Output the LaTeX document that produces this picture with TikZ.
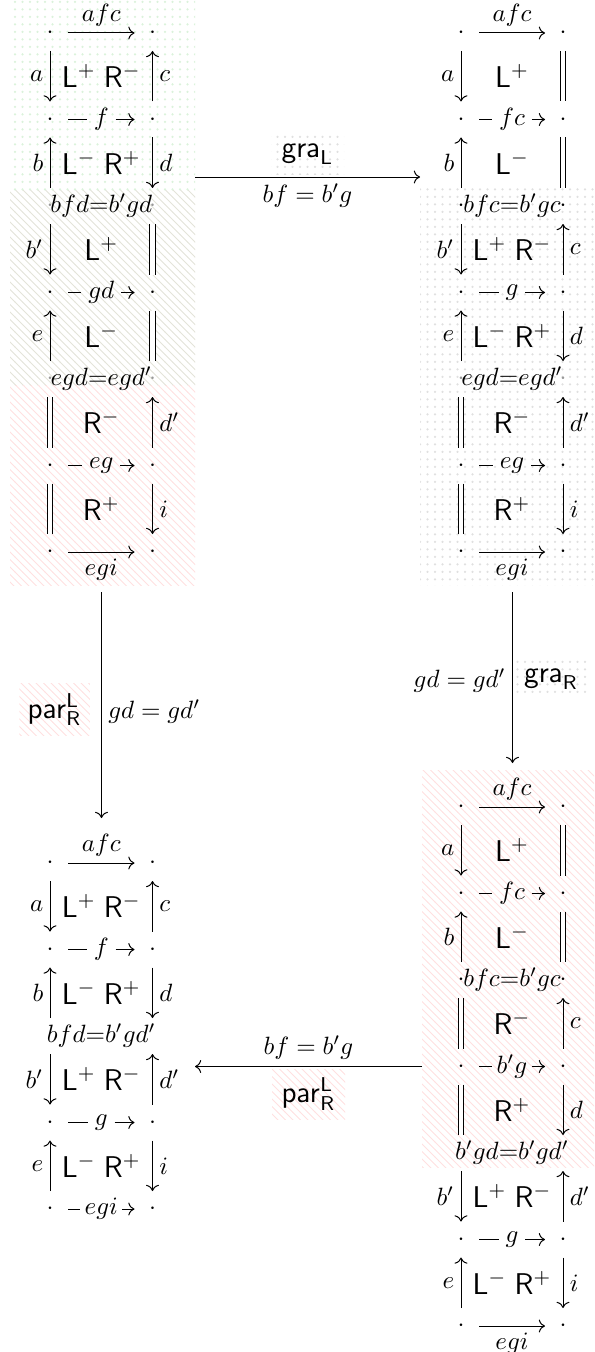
\documentclass[tikz,border=0pt]{standalone}
\usetikzlibrary{patterns,cd}
\definecolor{pinkc}{rgb}{1,0.88,0.88}
\definecolor{greyc}{rgb}{0.88,0.88,0.88}
\definecolor{greenc}{rgb}{0.86,0.95,0.86}
\definecolor{linec}{rgb}{0.89,0.89,0.85}
\begin{document}
\begin{tikzpicture}[x=0.4pt,y=-0.4pt,
  dotn/.style={circle,minimum size=14pt,inner sep=0pt},
  fdot/.style={dotn,text=black!40},
  hid/.style={circle,minimum size=14pt,inner sep=0pt},
  ar/.style={-{cm to},line width=0.4pt},
  ln/.style={line width=0.4pt},
  eq/.style={double,double distance=1.8pt,line width=0.4pt},
  sq/.style={font=\large},
  lab/.style={inner sep=2.5pt},
  mid/.style={inner sep=2.6pt},
  txt/.style={inner sep=1pt},
  pinkp/.style={pattern=north west lines,pattern color=pinkc},
  greyp/.style={pattern=dots,pattern color=greyc}]
\useasboundingbox (0,0) rectangle (594,1352);
% backgrounds
\fill[pattern=dots,pattern color=greenc] (10,0) rectangle (195,190);
\fill[pattern=north west lines,pattern color=linec] (10,190) rectangle (195,385);
\fill[pinkp] (10,385) rectangle (195,585);
\fill[greyp] (420,188) rectangle (594,585);
\fill[pinkp] (422,770) rectangle (594,1167);

% ================= TL =================
\foreach \k/\y in {0/33,1/119.5,3/292.5,5/465.5,6/552}{
  \node[dotn] (TL\k-a) at (50,\y) {$\cdot$};
  \node[dotn] (TL\k-b) at (152.5,\y) {$\cdot$};}
\foreach \k/\y in {2/206,4/379}{
  \node[fdot] (TL\k-a) at (50,\y) {$\cdot$};
  \node[fdot] (TL\k-b) at (152.5,\y) {$\cdot$};}
\draw[ar] (TL0-a) -- node[above,lab](TLl1){$afc$} (TL0-b);
\draw[ar] (TL0-a) -- node[left,lab](TLl2){$a$} (TL1-a);
\draw[ar] (TL1-b) -- node[right,lab](TLl3){$c$} (TL0-b);
\node[sq] (TLs1) at (101.25,76.25) {$\mathsf{L}^{+}\;\mathsf{R}^{-}$};
\node[mid] (TL1-t) at (101.25,119.5) {$f$};
\draw[ln] (TL1-a) -- (TL1-t); \draw[ar] (TL1-t) -- (TL1-b);
\draw[ar] (TL2-a) -- node[left,lab](TLl4){$b$} (TL1-a);
\draw[ar] (TL1-b) -- node[right,lab](TLl5){$d$} (TL2-b);
\node[sq] (TLs2) at (101.25,162.75) {$\mathsf{L}^{-}\;\mathsf{R}^{+}$};
\node[txt] (TL2-t) at (101.25,206) {$bfd{=}b'gd$};
\draw[ar] (TL2-a) -- node[left,lab](TLl6){$b'$} (TL3-a);
\draw[eq] (TL2-b) -- (TL3-b);
\node[sq] (TLs3) at (101.25,249.25) {$\mathsf{L}^{+}$};
\node[mid] (TL3-t) at (101.25,292.5) {$gd$};
\draw[ln] (TL3-a) -- (TL3-t); \draw[ar] (TL3-t) -- (TL3-b);
\draw[ar] (TL4-a) -- node[left,lab](TLl7){$e$} (TL3-a);
\draw[eq] (TL3-b) -- (TL4-b);
\node[sq] (TLs4) at (101.25,335.75) {$\mathsf{L}^{-}$};
\node[txt] (TL4-t) at (101.25,379) {$egd{=}egd'$};
\draw[eq] (TL4-a) -- (TL5-a);
\draw[ar] (TL5-b) -- node[right,lab](TLl8){$d'$} (TL4-b);
\node[sq] (TLs5) at (101.25,422.25) {$\mathsf{R}^{-}$};
\node[mid] (TL5-t) at (101.25,465.5) {$eg$};
\draw[ln] (TL5-a) -- (TL5-t); \draw[ar] (TL5-t) -- (TL5-b);
\draw[eq] (TL5-a) -- (TL6-a);
\draw[ar] (TL5-b) -- node[right,lab](TLl9){$i$} (TL6-b);
\node[sq] (TLs6) at (101.25,508.75) {$\mathsf{R}^{+}$};
\draw[ar] (TL6-a) -- node[below,lab](TLl10){$egi$} (TL6-b);

% ================= TR =================
\foreach \k/\y in {0/33,1/119.5,2/206,3/292.5,5/465.5,6/552}{
  \node[dotn] (TR\k-a) at (461,\y) {$\cdot$};
  \node[dotn] (TR\k-b) at (563,\y) {$\cdot$};}
\foreach \k/\y in {4/379}{
  \node[fdot] (TR\k-a) at (461,\y) {$\cdot$};
  \node[fdot] (TR\k-b) at (563,\y) {$\cdot$};}
\draw[ar] (TR0-a) -- node[above,lab](TRl1){$afc$} (TR0-b);
\draw[ar] (TR0-a) -- node[left,lab](TRl2){$a$} (TR1-a);
\draw[eq] (TR0-b) -- (TR1-b);
\node[sq] (TRs1) at (512,76.25) {$\mathsf{L}^{+}$};
\node[mid] (TR1-t) at (512,119.5) {$fc$};
\draw[ln] (TR1-a) -- (TR1-t); \draw[ar] (TR1-t) -- (TR1-b);
\draw[ar] (TR2-a) -- node[left,lab](TRl3){$b$} (TR1-a);
\draw[eq] (TR1-b) -- (TR2-b);
\node[sq] (TRs2) at (512,162.75) {$\mathsf{L}^{-}$};
\node[txt] (TR2-t) at (512,206) {$bfc{=}b'gc$};
\draw[ar] (TR2-a) -- node[left,lab](TRl4){$b'$} (TR3-a);
\draw[ar] (TR3-b) -- node[right,lab](TRl5){$c$} (TR2-b);
\node[sq] (TRs3) at (512,249.25) {$\mathsf{L}^{+}\;\mathsf{R}^{-}$};
\node[mid] (TR3-t) at (512,292.5) {$g$};
\draw[ln] (TR3-a) -- (TR3-t); \draw[ar] (TR3-t) -- (TR3-b);
\draw[ar] (TR4-a) -- node[left,lab](TRl6){$e$} (TR3-a);
\draw[ar] (TR3-b) -- node[right,lab](TRl7){$d$} (TR4-b);
\node[sq] (TRs4) at (512,335.75) {$\mathsf{L}^{-}\;\mathsf{R}^{+}$};
\node[txt] (TR4-t) at (512,379) {$egd{=}egd'$};
\draw[eq] (TR4-a) -- (TR5-a);
\draw[ar] (TR5-b) -- node[right,lab](TRl8){$d'$} (TR4-b);
\node[sq] (TRs5) at (512,422.25) {$\mathsf{R}^{-}$};
\node[mid] (TR5-t) at (512,465.5) {$eg$};
\draw[ln] (TR5-a) -- (TR5-t); \draw[ar] (TR5-t) -- (TR5-b);
\draw[eq] (TR5-a) -- (TR6-a);
\draw[ar] (TR5-b) -- node[right,lab](TRl9){$i$} (TR6-b);
\node[sq] (TRs6) at (512,508.75) {$\mathsf{R}^{+}$};
\draw[ar] (TR6-a) -- node[below,lab](TRl10){$egi$} (TR6-b);

% ================= BL =================
\foreach \k/\y in {0/863,1/949.5,3/1122.5,4/1209}{
  \node[dotn] (BL\k-a) at (50,\y) {$\cdot$};
  \node[dotn] (BL\k-b) at (152.5,\y) {$\cdot$};}
\node[hid] (BL2-a) at (50,1036) {};
\node[hid] (BL2-b) at (152.5,1036) {};
\draw[ar] (BL0-a) -- node[above,lab](BLl1){$afc$} (BL0-b);
\draw[ar] (BL0-a) -- node[left,lab](BLl2){$a$} (BL1-a);
\draw[ar] (BL1-b) -- node[right,lab](BLl3){$c$} (BL0-b);
\node[sq] (BLs1) at (101.25,906.25) {$\mathsf{L}^{+}\;\mathsf{R}^{-}$};
\node[mid] (BL1-t) at (101.25,949.5) {$f$};
\draw[ln] (BL1-a) -- (BL1-t); \draw[ar] (BL1-t) -- (BL1-b);
\draw[ar] (BL2-a) -- node[left,lab](BLl4){$b$} (BL1-a);
\draw[ar] (BL1-b) -- node[right,lab](BLl5){$d$} (BL2-b);
\node[sq] (BLs2) at (101.25,992.75) {$\mathsf{L}^{-}\;\mathsf{R}^{+}$};
\node[txt] (BL2-t) at (101.25,1036) {$bfd{=}b'gd'$};
\draw[ar] (BL2-a) -- node[left,lab](BLl6){$b'$} (BL3-a);
\draw[ar] (BL3-b) -- node[right,lab](BLl7){$d'$} (BL2-b);
\node[sq] (BLs3) at (101.25,1079.25) {$\mathsf{L}^{+}\;\mathsf{R}^{-}$};
\node[mid] (BL3-t) at (101.25,1122.5) {$g$};
\draw[ln] (BL3-a) -- (BL3-t); \draw[ar] (BL3-t) -- (BL3-b);
\draw[ar] (BL4-a) -- node[left,lab](BLl8){$e$} (BL3-a);
\draw[ar] (BL3-b) -- node[right,lab](BLl9){$i$} (BL4-b);
\node[sq] (BLs4) at (101.25,1165.75) {$\mathsf{L}^{-}\;\mathsf{R}^{+}$};
\node[mid,inner sep=1.5pt] (BL4-t) at (101.25,1209) {$egi$};
\draw[ln] (BL4-a) -- (BL4-t); \draw[ar] (BL4-t) -- (BL4-b);

% ================= BR =================
\foreach \k/\y in {0/807,1/893.5,2/980,3/1066.5,5/1239.5,6/1326}{
  \node[dotn] (BR\k-a) at (461,\y) {$\cdot$};
  \node[dotn] (BR\k-b) at (563,\y) {$\cdot$};}
\node[hid] (BR4-a) at (461,1153) {};
\node[hid] (BR4-b) at (563,1153) {};
\draw[ar] (BR0-a) -- node[above,lab](BRl1){$afc$} (BR0-b);
\draw[ar] (BR0-a) -- node[left,lab](BRl2){$a$} (BR1-a);
\draw[eq] (BR0-b) -- (BR1-b);
\node[sq] (BRs1) at (512,850.25) {$\mathsf{L}^{+}$};
\node[mid] (BR1-t) at (512,893.5) {$fc$};
\draw[ln] (BR1-a) -- (BR1-t); \draw[ar] (BR1-t) -- (BR1-b);
\draw[ar] (BR2-a) -- node[left,lab](BRl3){$b$} (BR1-a);
\draw[eq] (BR1-b) -- (BR2-b);
\node[sq] (BRs2) at (512,936.75) {$\mathsf{L}^{-}$};
\node[txt] (BR2-t) at (512,980) {$bfc{=}b'gc$};
\draw[eq] (BR2-a) -- (BR3-a);
\draw[ar] (BR3-b) -- node[right,lab](BRl4){$c$} (BR2-b);
\node[sq] (BRs3) at (512,1023.25) {$\mathsf{R}^{-}$};
\node[mid,inner sep=1.8pt] (BR3-t) at (512,1066.5) {$b'g$};
\draw[ln] (BR3-a) -- (BR3-t); \draw[ar] (BR3-t) -- (BR3-b);
\draw[eq] (BR3-a) -- (BR4-a);
\draw[ar] (BR3-b) -- node[right,lab](BRl5){$d$} (BR4-b);
\node[sq] (BRs4) at (512,1109.75) {$\mathsf{R}^{+}$};
\node[txt] (BR4-t) at (512,1153) {$b'gd{=}b'gd'$};
\draw[ar] (BR4-a) -- node[left,lab](BRl6){$b'$} (BR5-a);
\draw[ar] (BR5-b) -- node[right,lab](BRl7){$d'$} (BR4-b);
\node[sq] (BRs5) at (512,1196.25) {$\mathsf{L}^{+}\;\mathsf{R}^{-}$};
\node[mid] (BR5-t) at (512,1239.5) {$g$};
\draw[ln] (BR5-a) -- (BR5-t); \draw[ar] (BR5-t) -- (BR5-b);
\draw[ar] (BR6-a) -- node[left,lab](BRl8){$e$} (BR5-a);
\draw[ar] (BR5-b) -- node[right,lab](BRl9){$i$} (BR6-b);
\node[sq] (BRs6) at (512,1282.75) {$\mathsf{L}^{-}\;\mathsf{R}^{+}$};
\draw[ar] (BR6-a) -- node[below,lab](BRl10){$egi$} (BR6-b);

% ================= connectors between diagrams =================
\coordinate (TLe) at (195,177);
\coordinate (TRw) at (420,177);
\draw[ar] (TLe) -- node[above=1pt,greyp,minimum width=29.2pt,minimum height=16pt,sq] (gL) {$\mathsf{gra}_{\mathsf{L}}$}
  node[below,lab] (gLe) {$bf = b'g$} (TRw);

\coordinate (TLs) at (101.5,592);
\coordinate (BLn) at (101.5,818);
\draw[ar] (TLs) -- node[pos=0.52,left=4.5pt,pinkp,minimum width=25pt,minimum height=21pt,sq] (pL) {$\mathsf{par}^{\mathsf{L}}_{\mathsf{R}}$}
  node[pos=0.53,right,lab] (pLe) {$gd = gd'$} (BLn);

\coordinate (TRs) at (512.5,592);
\coordinate (BRn) at (512.5,763);
\draw[ar] (TRs) -- node[pos=0.51,right=0.8pt,greyp,minimum width=28.8pt,minimum height=15pt,sq] (gR) {$\mathsf{gra}_{\mathsf{R}}$}
  node[pos=0.52,left,lab] (gRe) {$gd = gd'$} (BRn);

\coordinate (BRw) at (422,1066.5);
\coordinate (BLe) at (195,1066.5);
\draw[ar] (BRw) -- node[above,lab] (pBe) {$bf = b'g$}
  node[below=0.8pt,pinkp,minimum width=29.2pt,minimum height=20pt,sq] (pB) {$\mathsf{par}^{\mathsf{L}}_{\mathsf{R}}$} (BLe);
\end{tikzpicture}
\end{document}
